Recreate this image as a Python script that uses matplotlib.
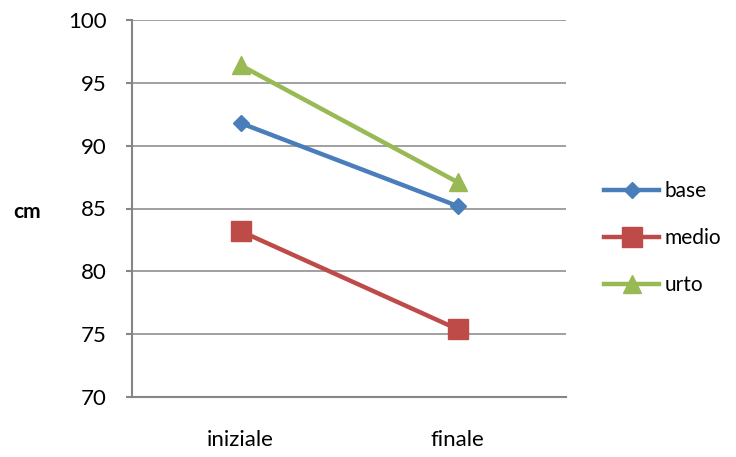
import matplotlib as mpl
import matplotlib.pyplot as plt

categories = ["iniziale", "finale"]
base = [91.8, 85.2]
medio = [83.2, 75.4]
urto = [96.4, 87.1]
y_ticks = [70, 75, 80, 85, 90, 95, 100]

GRID = "#868686"
BLUE = "#4a7ebb"
RED = "#be4b48"
GREEN = "#98b954"

mpl.rcParams.update({
    "font.family": ["Lato", "DejaVu Sans"],
    "font.size": 16,
    "text.color": "#000000",
})

fig = plt.figure(figsize=(7.36, 4.57), dpi=100)
ax = fig.add_axes([132 / 736, 60 / 457, 434 / 736, 377 / 457])

x = range(len(categories))
ax.plot(x, base, color=BLUE, lw=3.2, marker="D", markersize=8.5,
        label="base", zorder=3)
ax.plot(x, medio, color=RED, lw=3.2, marker="s", markersize=14,
        label="medio", zorder=3)
ax.plot(x, urto, color=GREEN, lw=3.2, marker="^", markersize=13,
        label="urto", zorder=3)

ax.set_xlim(-0.5, 1.5)
ax.set_ylim(70, 100)
ax.set_yticks(y_ticks)
ax.set_xticks(list(x))
ax.set_xticklabels(categories)

ax.yaxis.grid(True, color=GRID, lw=1.1)
ax.set_axisbelow(True)
for side in ("top", "right"):
    ax.spines[side].set_visible(False)
for side in ("left", "bottom"):
    ax.spines[side].set_color(GRID)
    ax.spines[side].set_linewidth(1.5)
ax.tick_params(axis="y", length=4, width=1.5, color=GRID, pad=14)
ax.tick_params(axis="x", length=0, pad=24)

fig.text(27 / 736, 1 - 212 / 457, "cm", ha="center", va="center",
         fontweight="bold", fontsize=15)

fig.legend(loc="center left", bbox_to_anchor=(604 / 736, 1 - 238 / 457),
           frameon=False, borderpad=0, borderaxespad=0,
           handlelength=2.65, handletextpad=0.25,
           labelspacing=1.3, fontsize=15)

fig.savefig("out.png", dpi=100)
